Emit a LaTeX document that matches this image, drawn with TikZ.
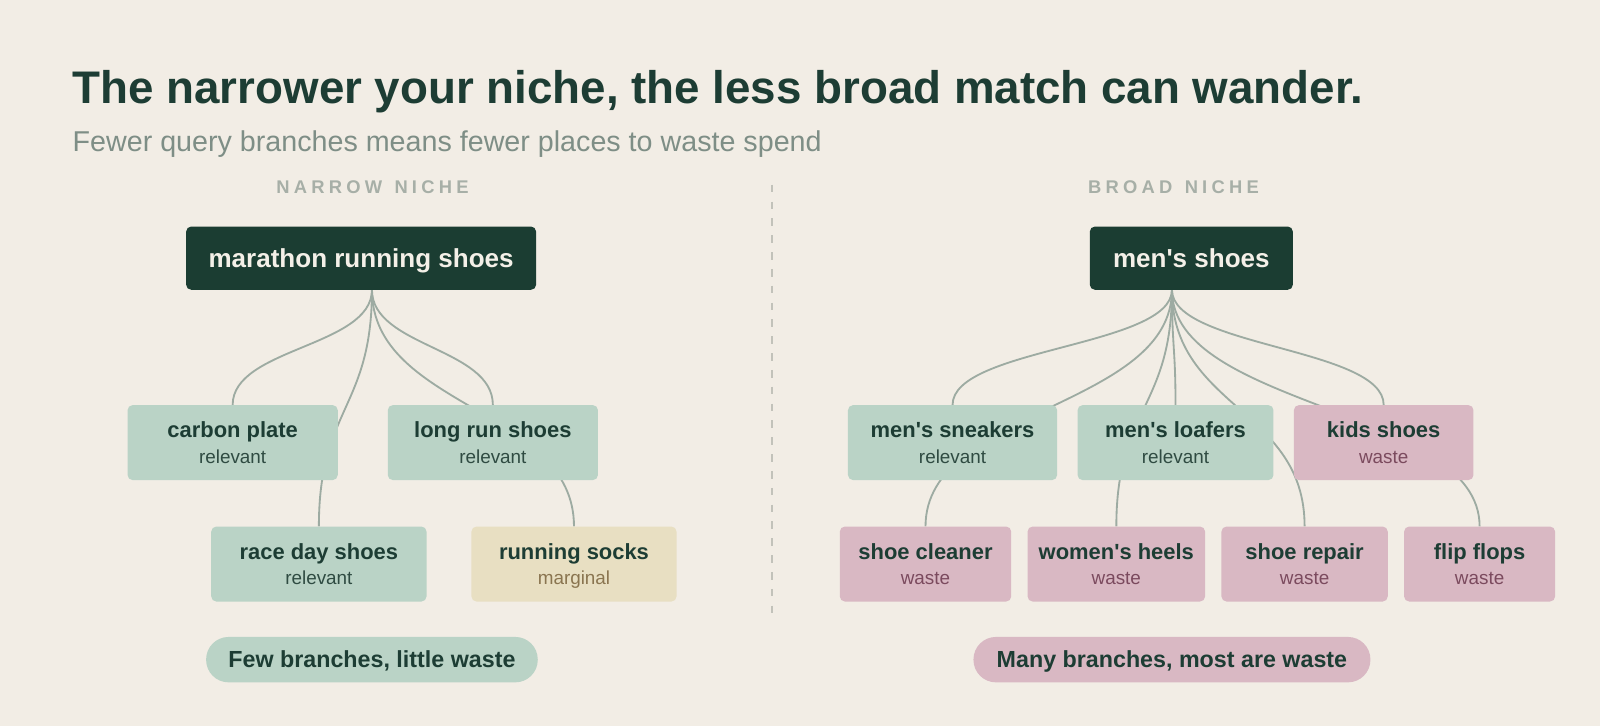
\documentclass[tikz,border=0pt]{standalone}
\usepackage{fontspec}
\setmainfont{Liberation Sans}
\newfontfamily\trackfont[LetterSpace=23]{Liberation Sans}
\usepackage{tikz}

\definecolor{paper}{HTML}{F2EDE5}
\definecolor{pine}{HTML}{1B3D32}
\definecolor{ink}{HTML}{1D3D34}
\definecolor{mist}{HTML}{7E8E86}
\definecolor{fog}{HTML}{A7AFA7}
\definecolor{sage}{HTML}{BAD3C6}
\definecolor{rose}{HTML}{D9B8C3}
\definecolor{sand}{HTML}{E8DFC2}
\definecolor{twig}{HTML}{9DABA2}
\definecolor{relv}{HTML}{2F4B42}
\definecolor{wast}{HTML}{7B4A5E}
\definecolor{marg}{HTML}{8A7550}
\definecolor{cream}{HTML}{F4F0E8}
\definecolor{dashgrey}{HTML}{C2C2BA}

\pgfdeclarelayer{paperlayer}
\pgfdeclarelayer{twigs}
\pgfsetlayers{paperlayer,twigs,main}

\tikzset{
  rootbox/.style={fill=pine, rounded corners=5pt, inner sep=0pt, anchor=base, text=cream,
    text height=40.6pt, text depth=21.4pt, font=\bfseries\fontsize{25.5}{30}\selectfont},
  leafbox/.style={rounded corners=5pt, inner sep=0pt, anchor=base, text=ink,
    text height=32pt, text depth=41.5pt, font=\bfseries\fontsize{21.5}{26}\selectfont},
  relbox/.style={leafbox, fill=sage},
  wastebox/.style={leafbox, fill=rose},
  margbox/.style={leafbox, fill=sand},
  leafnote/.style={anchor=base, inner sep=0pt, font=\fontsize{18.5}{22}\selectfont},
  relnote/.style={leafnote, text=relv},
  wastenote/.style={leafnote, text=wast},
  margnote/.style={leafnote, text=marg},
  pill/.style={rounded corners=22pt, inner sep=0pt, anchor=base, text=ink,
    text height=30pt, text depth=14.5pt, font=\bfseries\fontsize{22.8}{26}\selectfont},
  branch/.style={draw=twig, line width=1.8pt},
  divider/.style={draw=dashgrey, line width=2pt, dash pattern=on 7.5pt off 9pt},
  niche/.style={anchor=base, inner sep=0pt, text=fog, font=\trackfont\bfseries\fontsize{18}{22}\selectfont}
}

% name, x, baseline y, width, kind, title, note
\newcommand{\leaf}[7]{%
  \node[#5box, minimum width=#4pt] (#1) at (#2,#3) {#6};
  \node[#5note] (#1 note) at ([yshift=-25pt]#1.base) {#7};
}
\newcommand{\apos}{\textquotesingle}

\begin{document}
\begin{tikzpicture}[x=1pt, y=-1pt]
\begin{pgfonlayer}{paperlayer}
\fill[paper] (0,0) rectangle (1568,711.5);
\end{pgfonlayer}

% heading
\node[anchor=base west, inner sep=0pt, text=ink, font=\bfseries\fontsize{44.8}{50}\selectfont] (headline) at (71,101.2) {The narrower your niche, the less broad match can wander.};
\node[anchor=base west, inner sep=0pt, text=mist, font=\fontsize{28.1}{32}\selectfont] (subline) at (71,148.7) {Fewer query branches means fewer places to waste spend};

\node[niche] (narrowlabel) at (365,190) {NARROW\hspace{3pt} NICHE};
\node[niche] (broadlabel) at (1150,190) {BROAD\hspace{3pt} NICHE};
\draw[divider] (757,181) -- (757,603);

% narrow niche
\node[rootbox, minimum width=343pt] (narrowroot) at (353.9,262.6) {marathon running shoes};
\coordinate (narrowfork) at (364.5,284);
\leaf{carbon}{228}{429}{206}{rel}{carbon plate}{relevant}
\leaf{longrun}{483}{429}{206}{rel}{long run shoes}{relevant}
\leaf{raceday}{312.5}{548}{211}{rel}{race day shoes}{relevant}
\leaf{socks}{562.5}{548}{201}{marg}{running socks}{marginal}

% broad niche
\node[rootbox, minimum width=199pt] (broadroot) at (1167.5,262.6) {men\apos s shoes};
\coordinate (broadfork) at (1148.5,284);
\leaf{sneakers}{933.5}{429}{205}{rel}{men\apos s sneakers}{relevant}
\leaf{loafers}{1152}{429}{192}{rel}{men\apos s loafers}{relevant}
\leaf{kids}{1356}{429}{176}{waste}{kids shoes}{waste}
\leaf{cleaner}{907}{548}{168}{waste}{shoe cleaner}{waste}
\leaf{heels}{1094}{548}{174}{waste}{women\apos s heels}{waste}
\leaf{repair}{1278.5}{548}{163}{waste}{shoe repair}{waste}
\leaf{flip}{1450}{548}{148}{waste}{flip flops}{waste}

% verdicts
\node[pill, fill=sage, minimum width=325pt] (narrowsum) at (364.5,654.2) {Few branches, little waste};
\node[pill, fill=rose, minimum width=389pt] (broadsum) at (1148.5,654.2) {Many branches, most are waste};

\begin{pgfonlayer}{twigs}
\foreach \leafname/\h in {carbon/56,longrun/56,raceday/116,socks/116}
  \draw[branch] (narrowfork) .. controls +(0,\h) and +(0,-\h) .. (\leafname.north);
\foreach \leafname/\h in {sneakers/56,loafers/56,kids/56,cleaner/116,heels/116,repair/116,flip/116}
  \draw[branch] (broadfork) .. controls +(0,\h) and +(0,-\h) .. (\leafname.north);
\end{pgfonlayer}
\end{tikzpicture}
\end{document}
